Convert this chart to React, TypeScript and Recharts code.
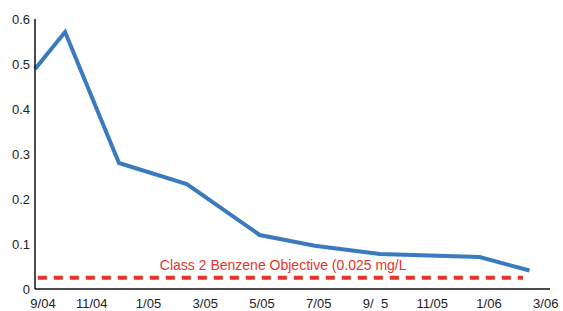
import { LineChart, Line, XAxis, YAxis, ReferenceLine } from 'recharts'

// sample dates as months since 9/04
const sampleMonths = [0, 1.06, 2.96, 5.35, 7.92, 9.86, 12.15, 15.67, 17.43]
const benzene = [0.489, 0.571, 0.28, 0.233, 0.12, 0.096, 0.078, 0.071, 0.041]

const tickMonths = [0, 2, 4, 6, 8, 10, 12, 14, 16, 18]
const tickLabels = ['9/04', '11/04', '1/05', '3/05', '5/05', '7/05', '9/  5', '11/05', '1/06', '3/06']
const yTicks = [0, 0.1, 0.2, 0.3, 0.4, 0.5, 0.6]

const objective = 0.025
const objectiveEnd = 17.2
const objectiveLabel = 'Class 2 Benzene Objective (0.025 mg/L'

const data = sampleMonths.map((m, i) => ({ month: m, benzene: benzene[i] }))

const font = '"Liberation Sans", Arial, Helvetica, sans-serif'
const blue = '#3a7bbf'
const red = '#e5352b'

function XTick(props: any) {
  const { x, y, payload, index } = props
  const i = tickMonths.indexOf(payload.value)
  return (
    <text
      x={x + (index === 0 ? 8 : 0)}
      y={y}
      dy="0.71em"
      textAnchor="middle"
      fontSize={13}
      fill="#222"
      fontFamily={font}
      style={{ whiteSpace: 'pre' }}
    >
      {i >= 0 ? tickLabels[i] : ''}
    </text>
  )
}

function ObjectiveLabel(props: any) {
  const { viewBox } = props
  return (
    <text x={viewBox.x + 122} y={viewBox.y - 8} fontSize={14} fill={red} fontFamily={font}>
      {objectiveLabel}
    </text>
  )
}

export default function App() {
  return (
    <div style={{ position: 'absolute', left: 0, top: 0, background: '#fff' }}>
      <LineChart width={563} height={311} data={data} margin={{ top: 19, right: 13, left: 0, bottom: 0 }}>
        <XAxis
          dataKey="month"
          type="number"
          domain={[0, 18.15]}
          ticks={tickMonths}
          tick={<XTick />}
          tickLine={false}
          axisLine={{ stroke: '#111', strokeWidth: 1.5 }}
          tickSize={6}
          tickMargin={4}
          height={22}
          interval={0}
        />
        <YAxis
          domain={[0, 0.6]}
          ticks={yTicks}
          tick={{ fontSize: 13, fill: '#222', fontFamily: font }}
          tickLine={false}
          axisLine={{ stroke: '#111', strokeWidth: 1.5 }}
          tickSize={3}
          tickMargin={2}
          width={35}
          interval={0}
        />
        <ReferenceLine
          segment={[
            { x: 0.1, y: objective },
            { x: objectiveEnd, y: objective },
          ]}
          stroke={red}
          strokeWidth={4}
          strokeDasharray="9 7"
          label={<ObjectiveLabel />}
        />
        <Line
          type="linear"
          dataKey="benzene"
          stroke={blue}
          strokeWidth={4}
          dot={false}
          isAnimationActive={false}
        />
      </LineChart>
    </div>
  )
}
